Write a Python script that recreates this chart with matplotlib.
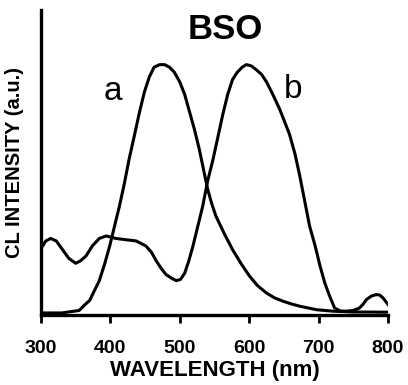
import matplotlib.pyplot as plt

plt.rcParams['font.family'] = ['Liberation Sans', 'DejaVu Sans']

# curve a: emission band peaked near 470 nm
wl_a = [300, 330, 355, 362, 370, 377, 384, 392, 399, 406, 413, 420, 427, 435, 442,
        449, 456, 463, 471, 478, 485, 492, 500, 507, 514, 521, 528, 534, 540, 546,
        552, 564, 576, 588, 600, 612, 625, 637, 649, 661, 673, 685, 697, 721, 750, 800]
int_a = [0.0, 0.0, 0.01, 0.03, 0.05, 0.09, 0.13, 0.20, 0.27, 0.35, 0.43, 0.52, 0.62,
         0.72, 0.81, 0.89, 0.95, 0.99, 1.0, 1.0, 0.99, 0.97, 0.93, 0.88, 0.81, 0.74,
         0.66, 0.58, 0.50, 0.44, 0.39, 0.32, 0.255, 0.20, 0.15, 0.11, 0.08, 0.06,
         0.047, 0.036, 0.027, 0.02, 0.013, 0.007, 0.004, 0.003]

# curve b: UV bands plus emission band peaked near 600 nm
wl_b = [300, 307, 314, 322, 331, 340, 350, 357, 365, 374, 384, 394, 408, 422, 437,
        451, 459, 466, 473, 480, 488, 495, 501, 507, 513, 519, 526, 533, 540, 548,
        555, 562, 569, 576, 583, 590, 596, 603, 610, 618, 625, 634, 644, 651, 658,
        666, 673, 680, 687, 695, 702, 709, 716, 723, 731, 740, 750, 759, 764, 769,
        776, 783, 788, 793, 797, 800]
int_b = [0.26, 0.29, 0.30, 0.29, 0.255, 0.22, 0.20, 0.21, 0.23, 0.27, 0.30, 0.31,
         0.30, 0.295, 0.29, 0.27, 0.245, 0.21, 0.18, 0.155, 0.14, 0.13, 0.135, 0.16,
         0.21, 0.27, 0.35, 0.43, 0.53, 0.62, 0.71, 0.80, 0.88, 0.94, 0.97, 0.99, 1.0,
         0.995, 0.98, 0.96, 0.93, 0.88, 0.82, 0.77, 0.72, 0.64, 0.55, 0.45, 0.35,
         0.27, 0.19, 0.12, 0.067, 0.02, 0.008, 0.007, 0.01, 0.02, 0.035, 0.054,
         0.068, 0.074, 0.072, 0.06, 0.045, 0.034]

ticks = [300, 400, 500, 600, 700, 800]

fig = plt.figure(figsize=(4.08, 3.85), dpi=100)
ax = fig.add_axes([0.1005, 0.182, 0.8505, 0.792])

ax.plot(wl_a, int_a, color='black', lw=2.2)
ax.plot(wl_b, int_b, color='black', lw=2.2)

ax.set_xlim(300, 800)
ax.set_ylim(-0.008, 1.22)
ax.spines['top'].set_visible(False)
ax.spines['right'].set_visible(False)
ax.spines['left'].set_linewidth(2.4)
ax.spines['bottom'].set_linewidth(2.4)
ax.set_yticks([])
ax.set_xticks(ticks)
ax.set_xticklabels([str(t) for t in ticks], fontsize=14, fontweight='bold')
ax.tick_params(axis='x', direction='out', length=6, width=2, pad=12)

ax.set_xlabel('WAVELENGTH (nm)', fontsize=16, fontweight='bold', labelpad=2)
ax.set_ylabel('CL INTENSITY (a.u.)', fontsize=14.5, fontweight='bold')
ax.yaxis.set_label_coords(-0.05, 0.5)

ax.text(566, 1.14, 'BSO', fontsize=25, fontweight='bold', ha='center', va='center')
ax.text(404, 0.89, 'a', fontsize=24, ha='center', va='center')
ax.text(663, 0.90, 'b', fontsize=24, ha='center', va='center')

fig.savefig('out.png', dpi=100)
